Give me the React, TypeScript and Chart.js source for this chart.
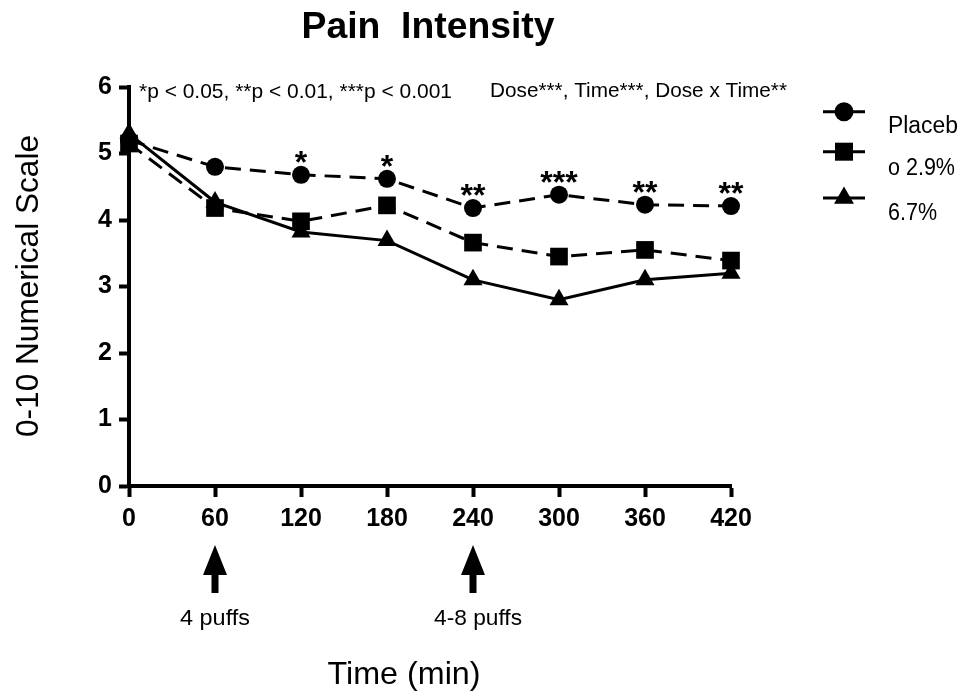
import React, { useEffect, useRef } from 'react';
import { Chart, registerables } from 'chart.js';

Chart.register(...registerables);

// ---------- data ----------
const times = [0, 60, 120, 180, 240, 300, 360, 420];
const placebo = [5.2, 4.8, 4.68, 4.62, 4.18, 4.38, 4.23, 4.21];
const dose29 = [5.15, 4.18, 3.98, 4.22, 3.66, 3.45, 3.55, 3.39];
const dose67 = [5.3, 4.27, 3.82, 3.69, 3.1, 2.8, 3.1, 3.2];
const seriesNames = ['Placebo', '2.9%', '6.7%'];
const legendLines = ['Placeb', 'o 2.9%', '6.7%'];
const significance = ['', '', '*', '*', '**', '***', '**', '**'];
const xMin = 0;
const xMax = 420;
const xStep = 60;
const yMin = 0;
const yMax = 6;
const yStep = 1;
const doseTimes = [60, 240];
const doseLabels = ['4 puffs', '4-8 puffs'];
const titleText = 'Pain  Intensity';
const pNote = '*p < 0.05, **p < 0.01, ***p < 0.001';
const effectNote = 'Dose***, Time***, Dose x Time**';
const xTitle = 'Time (min)';
const yTitle = '0-10 Numerical Scale';

const FONT = "'Liberation Sans', Arial, Helvetica, sans-serif";

function fillTextFit(ctx: CanvasRenderingContext2D, text: string, x: number, y: number, width: number, align: CanvasTextAlign) {
  const w = ctx.measureText(text).width;
  const sx = w > 0 ? width / w : 1;
  ctx.save();
  ctx.translate(x, y);
  ctx.scale(sx, 1);
  ctx.textAlign = align;
  ctx.textBaseline = 'alphabetic';
  ctx.fillText(text, 0, 0);
  ctx.restore();
}

function drawMarker(ctx: CanvasRenderingContext2D, style: string, x: number, y: number) {
  ctx.beginPath();
  if (style === 'circle') {
    ctx.arc(x, y, 9.5, 0, Math.PI * 2);
  } else if (style === 'rect') {
    ctx.rect(x - 9, y - 9, 18, 18);
  } else {
    const r = 11.5;
    ctx.moveTo(x, y - r);
    ctx.lineTo(x + r * Math.sin((2 * Math.PI) / 3), y - r * Math.cos((2 * Math.PI) / 3));
    ctx.lineTo(x + r * Math.sin((4 * Math.PI) / 3), y - r * Math.cos((4 * Math.PI) / 3));
    ctx.closePath();
  }
  ctx.fill();
}

const annotationPlugin = {
  id: 'annotations',
  afterDraw(chart: any) {
    const ctx: CanvasRenderingContext2D = chart.ctx;
    const xs = chart.scales.x;
    const ys = chart.scales.y;
    ctx.save();
    ctx.fillStyle = '#000';
    ctx.strokeStyle = '#000';

    // title
    ctx.font = `bold 36px ${FONT}`;
    fillTextFit(ctx, titleText, 428, 38, 253, 'center');

    // notes
    ctx.font = `21px ${FONT}`;
    fillTextFit(ctx, pNote, 139, 98, 313, 'left');
    fillTextFit(ctx, effectNote, 490, 97, 297, 'left');

    // significance stars above placebo
    ctx.font = `bold 32px ${FONT}`;
    significance.forEach((s, i) => {
      if (!s) return;
      const px = xs.getPixelForValue(times[i]);
      const py = ys.getPixelForValue(placebo[i]);
      ctx.textAlign = 'center';
      ctx.textBaseline = 'alphabetic';
      ctx.fillText(s, px, py - 2);
    });

    // legend
    const styles = ['circle', 'rect', 'triangle'];
    const rowY = [111.7, 151.7, 198];
    const textY = [133, 175, 220];
    const textW = [70, 67, 49];
    ctx.font = `23px ${FONT}`;
    styles.forEach((st, i) => {
      ctx.lineWidth = 3;
      ctx.setLineDash([]);
      ctx.beginPath();
      ctx.moveTo(823, rowY[i]);
      ctx.lineTo(865, rowY[i]);
      ctx.stroke();
      drawMarker(ctx, st, 844, rowY[i]);
      fillTextFit(ctx, legendLines[i], 888, textY[i], textW[i], 'left');
    });

    // dose arrows
    const labW = [70, 88];
    const labOff = [0, 5];
    doseTimes.forEach((t, i) => {
      const ax = xs.getPixelForValue(t);
      ctx.beginPath();
      ctx.moveTo(ax, 545);
      ctx.lineTo(ax + 12, 575);
      ctx.lineTo(ax + 3.5, 575);
      ctx.lineTo(ax + 3.5, 593);
      ctx.lineTo(ax - 3.5, 593);
      ctx.lineTo(ax - 3.5, 575);
      ctx.lineTo(ax - 12, 575);
      ctx.closePath();
      ctx.fill();
      ctx.font = `22px ${FONT}`;
      fillTextFit(ctx, doseLabels[i], ax + labOff[i], 625, labW[i], 'center');
    });

    // axis titles
    ctx.font = `32px ${FONT}`;
    fillTextFit(ctx, xTitle, 404, 684, 153, 'center');
    ctx.save();
    ctx.translate(38, 286);
    ctx.rotate(-Math.PI / 2);
    fillTextFit(ctx, yTitle, 0, 0, 302, 'center');
    ctx.restore();

    ctx.restore();
  },
};

export default function App() {
  const ref = useRef<HTMLCanvasElement | null>(null);

  useEffect(() => {
    if (!ref.current) return;
    const mk = (arr: number[]) => arr.map((v, i) => ({ x: times[i], y: v }));
    const chart = new Chart(ref.current, {
      type: 'line',
      data: {
        datasets: [
          {
            label: seriesNames[0],
            data: mk(placebo),
            borderColor: '#000',
            backgroundColor: '#000',
            borderWidth: 3,
            borderDash: [16, 9],
            pointStyle: 'circle',
            pointRadius: 9,
            pointBorderWidth: 0,
            order: 2,
            clip: false,
          } as any,
          {
            label: seriesNames[1],
            data: mk(dose29),
            borderColor: '#000',
            backgroundColor: '#000',
            borderWidth: 3,
            borderDash: [16, 9],
            pointStyle: 'rect',
            pointRadius: 12.5,
            pointBorderWidth: 0,
            order: 1,
            clip: false,
          } as any,
          {
            label: seriesNames[2],
            data: mk(dose67),
            borderColor: '#000',
            backgroundColor: '#000',
            borderWidth: 3,
            pointStyle: 'triangle',
            pointRadius: 11,
            pointBorderWidth: 0,
            order: 0,
            clip: false,
          } as any,
        ],
      },
      options: {
        responsive: false,
        animation: false,
        devicePixelRatio: 1,
        layout: { padding: { left: 69, top: 87, right: 235, bottom: 150 } },
        plugins: {
          legend: { display: false },
          tooltip: { enabled: false },
          title: { display: false },
        },
        scales: {
          x: {
            type: 'linear',
            min: xMin,
            max: xMax,
            afterFit: (s: any) => { s.height = 60; },
            ticks: {
              stepSize: xStep,
              autoSkip: false,
              color: '#000',
              font: { family: FONT, size: 25, weight: 'bold' },
              padding: 7,
              maxRotation: 0,
            },
            grid: {
              drawOnChartArea: false,
              drawTicks: true,
              tickLength: 11,
              tickWidth: 4,
              tickColor: '#000',
            },
            border: { display: true, color: '#000', width: 4 },
          },
          y: {
            type: 'linear',
            min: yMin,
            max: yMax,
            afterFit: (s: any) => { s.width = 60; },
            ticks: {
              stepSize: yStep,
              color: '#000',
              font: { family: FONT, size: 25, weight: 'bold' },
              padding: 7,
            },
            grid: {
              drawOnChartArea: false,
              drawTicks: true,
              tickLength: 10,
              tickWidth: 4,
              tickColor: '#000',
            },
            border: { display: true, color: '#000', width: 4 },
          },
        },
      } as any,
      plugins: [annotationPlugin],
    });
    return () => chart.destroy();
  }, []);

  return (
    <div style={{ position: 'absolute', left: 0, top: 0, width: 966, height: 696, background: '#fff' }}>
      <canvas ref={ref} width={966} height={696} style={{ width: 966, height: 696, display: 'block' }} />
    </div>
  );
}
